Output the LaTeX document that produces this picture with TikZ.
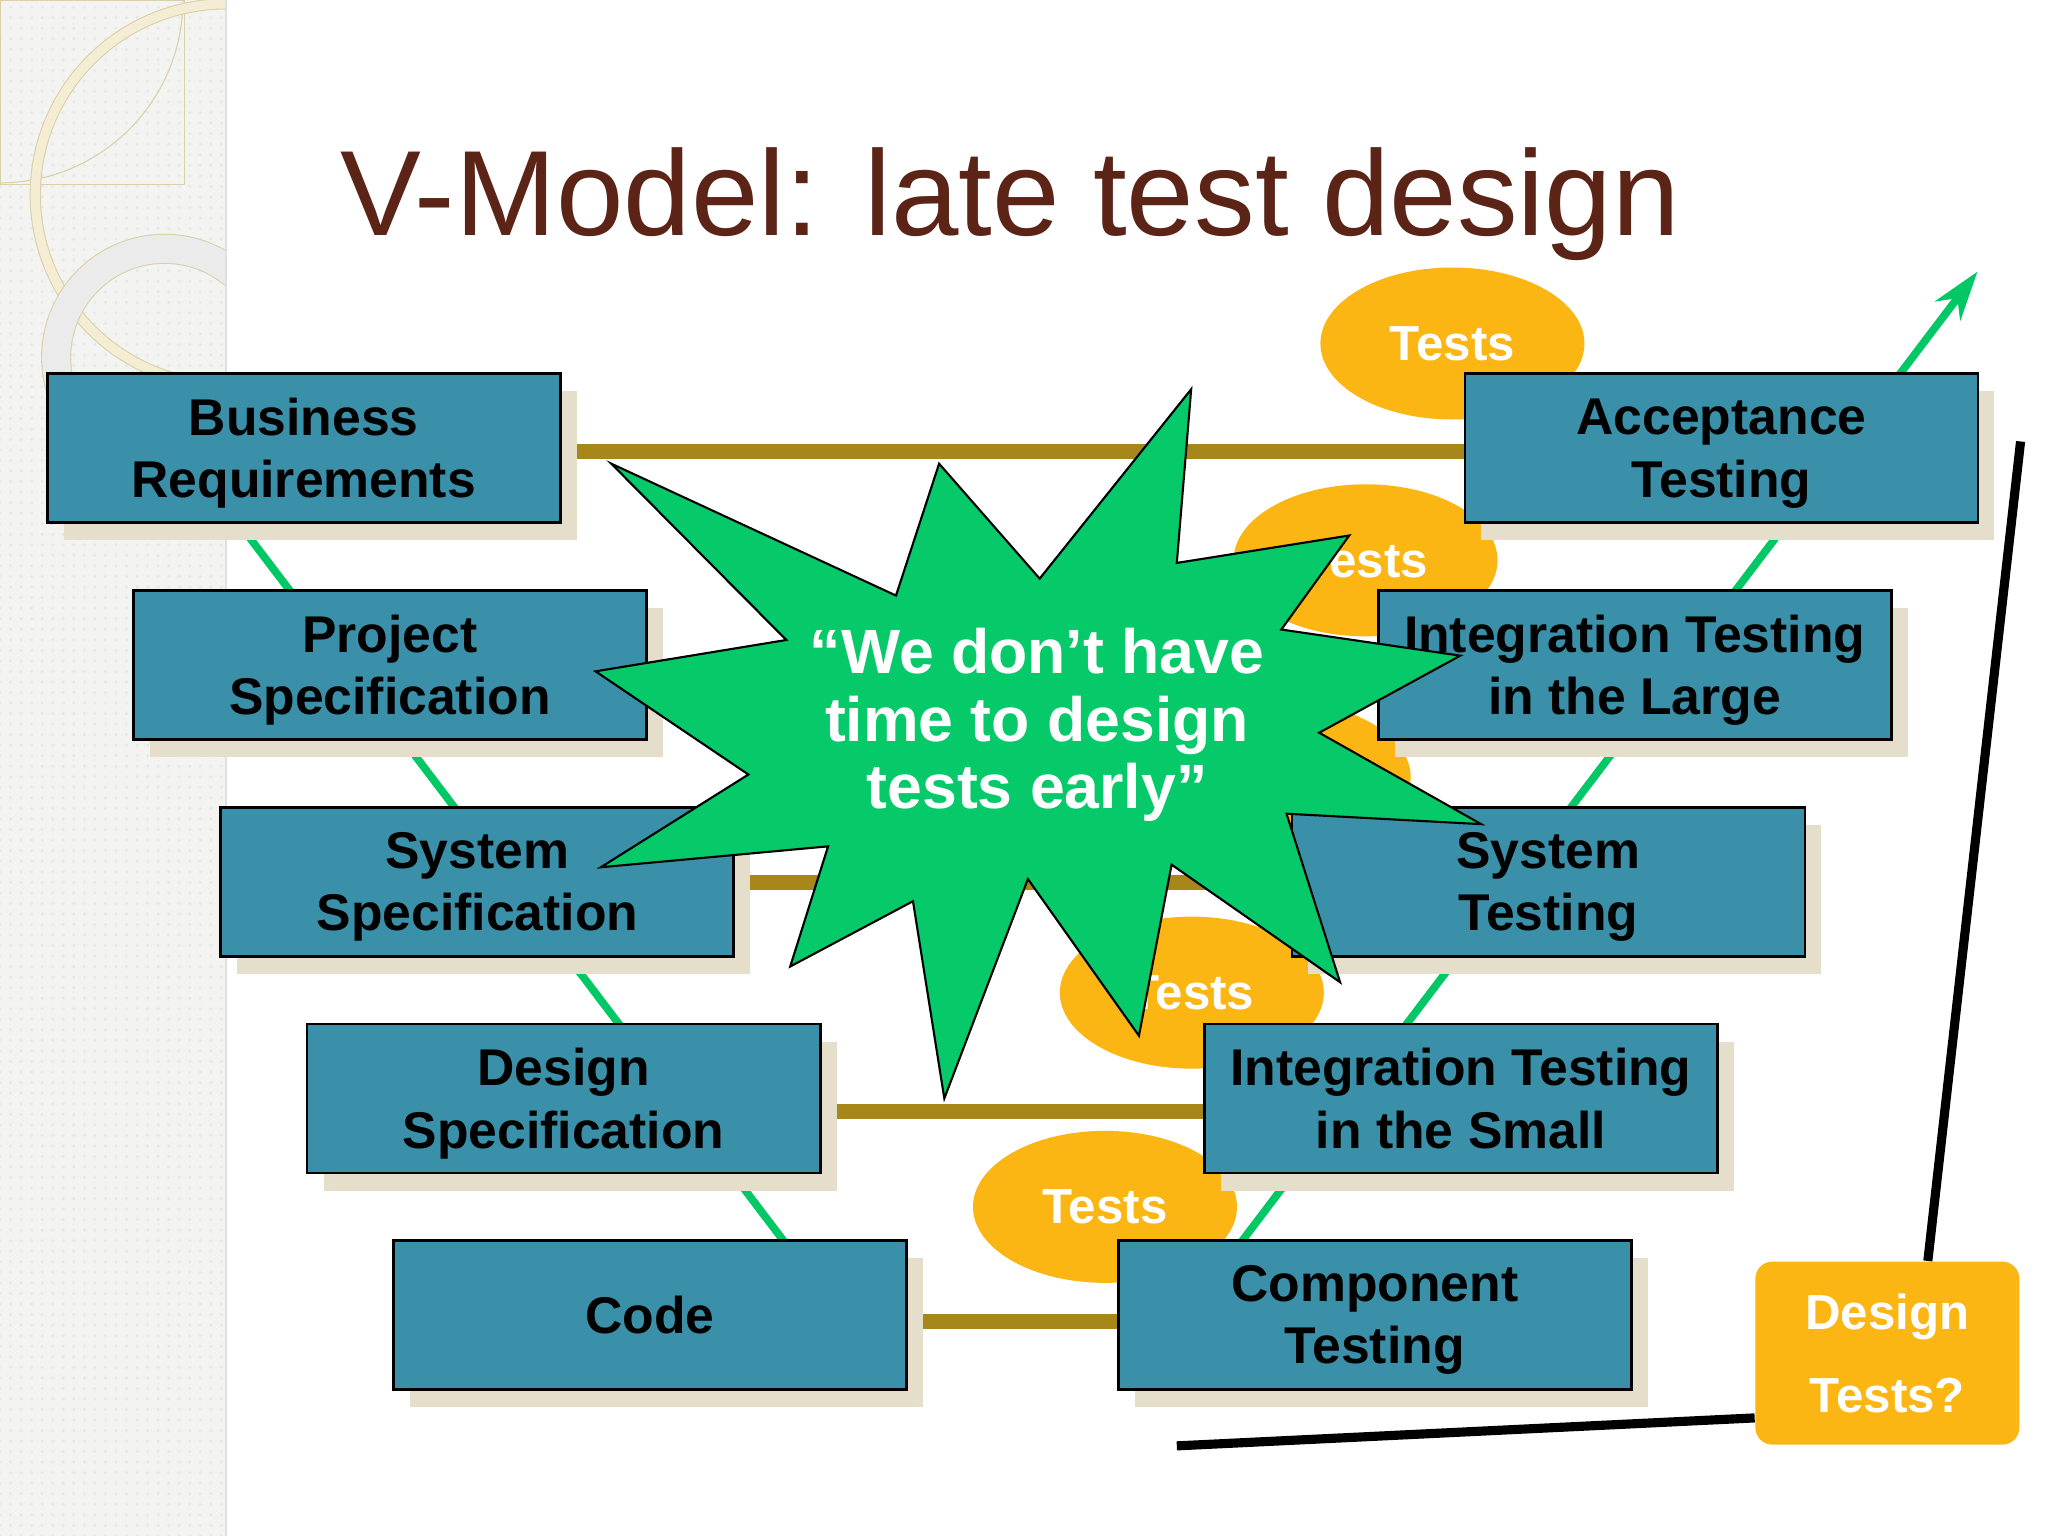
\documentclass[tikz,border=0pt]{standalone}
\usepackage{fontspec}
\setmainfont{Liberation Sans}
\usetikzlibrary{shapes.geometric,shadows,backgrounds,calc,arrows.meta,patterns}

\definecolor{boxteal}{HTML}{3A90A8}
\definecolor{boxshade}{HTML}{E5DECA}
\definecolor{olivebar}{HTML}{A8871A}
\definecolor{veegreen}{HTML}{00C865}
\definecolor{burstgreen}{HTML}{06C96A}
\definecolor{testorange}{HTML}{FCB614}
\definecolor{titlebrown}{HTML}{5B2417}
\definecolor{stripgray}{HTML}{F3F3F1}
\definecolor{ringtan}{HTML}{D9D0A8}
\definecolor{ringcream}{HTML}{F4EDD3}

\begin{document}
\begin{tikzpicture}[x=0.01306cm,y=-0.01306cm,
  stage/.style={draw, line width=0.8pt, fill=boxteal, rectangle, minimum width=5.13cm, minimum height=1.49cm, inner sep=0pt, align=center, text depth=0pt, font=\bfseries\fontsize{14.7}{17.8}\selectfont, drop shadow={shadow xshift=0.165cm, shadow yshift=-0.18cm, fill=boxshade, opacity=1}},
  testblob/.style={ellipse, fill=testorange, minimum width=2.64cm, minimum height=1.52cm, inner sep=0pt, text=white, font=\bfseries\fontsize{14}{16}\selectfont},
  olive/.style={draw=olivebar, line width=4.3pt},
  vee/.style={draw=veegreen, line width=2.2pt, line join=miter},
  burst/.style={draw=black, line width=0.6pt, fill=burstgreen, line join=miter},
  axisline/.style={draw=black, line width=2.6pt},
  askbox/.style={rectangle, rounded corners=0.17cm, fill=testorange, minimum width=2.64cm, minimum height=1.83cm, inner sep=0pt, align=center, text=white, font=\bfseries\fontsize{14}{23.6}\selectfont}]
\useasboundingbox (0,0) rectangle (1568,1176);

\node[stage] (br) at (232.5,343) {Business\\Requirements};
\node[stage] (ps) at (298.5,509) {Project\\Specification};
\node[stage] (ss) at (365.5,675) {System\\Specification};
\node[stage] (ds) at (431.5,841) {Design\\Specification};
\node[stage] (co) at (497.5,1006.5) {Code};

\node[stage] (acc) at (1318,343) {Acceptance\\Testing};
\node[stage] (il) at (1251.5,509) {Integration Testing\\in the Large};
\node[stage] (st) at (1185.5,675) {System\\Testing};
\node[stage] (is) at (1118.5,841) {Integration Testing\\in the Small};
\node[stage] (ct) at (1052.5,1006.5) {Component\\Testing};

\begin{scope}[on background layer]
\fill[white] (0,0) rectangle (1568,1176);
\fill[stripgray] (0,0) rectangle (173,1176);
\fill[pattern=dots, pattern color=black!9] (0,0) rectangle (173,1176);
\begin{scope}
\clip (0,0) rectangle (173,1176);
\draw[ringtan, line width=0.3pt] (0,0) rectangle (141,141);
\draw[ringtan, line width=0.3pt] (140,0) arc[start angle=0, end angle=90, radius=140];
\draw[draw=ringtan, line width=0.3pt, double=ringcream, double distance=2.6pt] (173,149) circle[radius=146];
\draw[draw=ringtan, line width=0.3pt, double=black!8, double distance=0.28cm] (126,273.5) circle[radius=83];
\end{scope}
\draw[black!12, line width=0.8pt] (173,0) -- (173,1176);

\coordinate (veetop) at (139,343);
\coordinate (veeleft) at (647,1012);
\coordinate (veeright) at (904,1012);
\coordinate (veetip) at (1514,208);
\draw[vee, -{Stealth[length=14pt, width=9pt]}] (veetop) -- (veeleft) -- (veeright) -- (veetip);

\draw[olive] ($(br.east)+(0,3)$) -- ($(acc.west)+(0,3)$);
\draw[olive] ($(ps.east)+(0,3)$) -- ($(il.west)+(0,3)$);
\draw[olive] ($(ss.east)+(0,1)$) -- ($(st.west)+(0,1)$);
\draw[olive] ($(ds.east)+(0,10)$) -- ($(is.west)+(0,10)$);
\draw[olive] ($(co.east)+(0,5.5)$) -- ($(ct.west)+(0,5.5)$);

\node[testblob] (t1) at (1112,263) {Tests};
\node[testblob] (t2) at (1045.5,429) {Tests};
\node[testblob] (t3) at (979,595) {Tests};
\node[testblob] (t4) at (912.5,760) {Tests};
\node[testblob] (t5) at (846,924) {Tests};
\end{scope}

\node[anchor=base, text=titlebrown, font=\fontsize{34.5}{40}\selectfont] (title) at (773.5,180) {V-Model: late test design};

\draw[burst] (468,355) -- (686,456) -- (719,355) -- (796,443) -- (912,298) -- (901,431) -- (1033,410) -- (981,482) -- (1118,502) -- (1010,561) -- (1134,631) -- (985,623) -- (1026,752) -- (897,662) -- (872,793) -- (787,673) -- (723,841) -- (699,690) -- (605,740) -- (634,648) -- (460,664) -- (573,593) -- (456,514) -- (602,490) -- cycle;
\node[text=white, align=center, font=\bfseries\fontsize{17.8}{19.3}\selectfont] (quote) at (794,555) {“We don’t have\\time to design\\tests early”};

\node[askbox] (dt) at (1445,1036) {Design\\Tests?};
\coordinate (axtop) at (1547,338);
\coordinate (axleft) at (901,1107);
\draw[axisline] (axtop) -- ($(dt.north)+(31,0)$);
\draw[axisline] (axleft) -- ($(dt.south west)+(0,-21)$);
\end{tikzpicture}
\end{document}
